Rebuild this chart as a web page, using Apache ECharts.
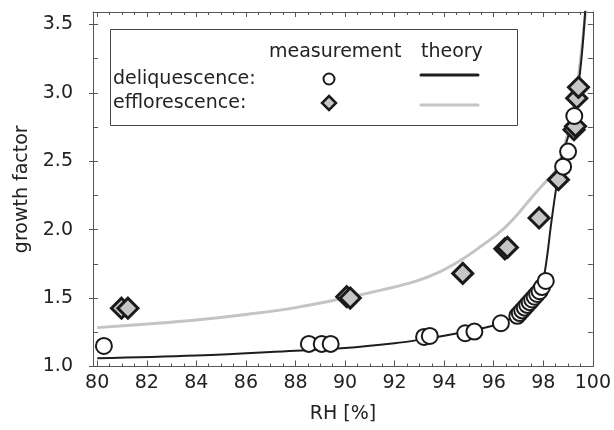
<!DOCTYPE html>
<html>
<head>
<meta charset="utf-8">
<script src="https://cdn.jsdelivr.net/npm/echarts@6/dist/echarts.min.js"></script>
<style>
  html, body { margin: 0; padding: 0; background: #fff; }
  #chart { width: 614px; height: 430px; }
</style>
</head>
<body>
<div id="chart"></div>
<script>
// tick labels
const xMajor = [80, 82, 84, 86, 88, 90, 92, 94, 96, 98, 100]
const yMajor = [1.0, 1.5, 2.0, 2.5, 3.0, 3.5]

// theory curves
const rhDeliqTheory = [80, 84, 88, 90, 92, 93, 94, 95, 96, 96.5, 97, 97.5, 97.8, 98.0, 98.15, 98.3, 98.5, 98.7, 98.9, 99.1, 99.3, 99.45, 99.58, 99.7]
const gfDeliqTheory = [1.06, 1.08, 1.115, 1.135, 1.17, 1.195, 1.225, 1.26, 1.3, 1.335, 1.38, 1.46, 1.54, 1.64, 1.8, 2.02, 2.28, 2.5, 2.62, 2.74, 2.9, 3.1, 3.33, 3.62]
const rhEfflTheory = [80, 82, 84, 86, 88, 90, 91.5, 92.8, 93.8, 94.7, 95.5, 96.3, 97.0, 97.6, 98.1, 98.5, 98.8, 99.1, 99.35, 99.55, 99.72]
const gfEfflTheory = [1.284, 1.31, 1.34, 1.38, 1.43, 1.5, 1.56, 1.62, 1.69, 1.78, 1.88, 1.99, 2.12, 2.25, 2.35, 2.43, 2.58, 2.78, 3.03, 3.32, 3.62]

// measurements
const rhDeliqMeas = [80.27, 88.54, 89.06, 89.42, 93.19, 93.42, 94.85, 95.22, 96.29, 96.95, 97.05, 97.15, 97.25, 97.35, 97.45, 97.55, 97.65, 97.75, 97.85, 97.95, 98.1, 98.8, 99.0, 99.25]
const gfDeliqMeas = [1.15, 1.165, 1.165, 1.165, 1.216, 1.223, 1.243, 1.255, 1.316, 1.37, 1.39, 1.41, 1.43, 1.45, 1.47, 1.49, 1.51, 1.53, 1.55, 1.58, 1.625, 2.46, 2.57, 2.83]
const rhEfflMeas = [80.98, 81.24, 90.07, 90.21, 94.75, 96.45, 96.55, 97.83, 98.61, 99.24, 99.3, 99.35, 99.42]
const gfEfflMeas = [1.426, 1.426, 1.51, 1.5, 1.68, 1.86, 1.87, 2.085, 2.365, 2.73, 2.755, 2.96, 3.04]

const pairs = (xs, ys) => xs.map((x, i) => [x, ys[i]])

const xMinor = []
for (let v = 80; v <= 100; v += 0.5) xMinor.push(v)
const yMinor = []
for (let v = 1.0; v <= 3.5001; v += 0.25) yMinor.push(+v.toFixed(2))

const font = 'DejaVu Sans'
const axisColor = '#555'
const textColor = '#222'
const xMin = 79.83
const yMax = 3.59

const chart = echarts.init(document.getElementById('chart'))

const baseX = {
  type: 'value',
  min: xMin,
  max: 100,
  splitLine: { show: false },
  axisLine: { show: false, onZero: false },
  axisLabel: { show: false },
}
const baseY = {
  type: 'value',
  min: 1.0,
  max: yMax,
  splitLine: { show: false },
  axisLine: { show: false, onZero: false },
  axisLabel: { show: false },
}

chart.setOption({
  animation: false,
  grid: { left: 93, right: 18, top: 12, bottom: 63.5 },
  xAxis: [
    {
      ...baseX,
      position: 'bottom',
      name: 'RH [%]',
      nameLocation: 'middle',
      nameGap: 38,
      nameTextStyle: { fontFamily: font, fontSize: 19, color: textColor },
      axisLine: { show: true, onZero: false, lineStyle: { color: axisColor, width: 1 } },
      axisTick: { inside: true, length: 6, customValues: xMajor, lineStyle: { color: axisColor } },
      axisLabel: { show: true, customValues: xMajor, fontFamily: font, fontSize: 19, color: textColor, margin: 7 },
    },
    {
      ...baseX,
      position: 'bottom',
      axisTick: { inside: true, length: 3, customValues: xMinor, lineStyle: { color: axisColor } },
    },
    {
      ...baseX,
      position: 'top',
      axisLine: { show: true, onZero: false, lineStyle: { color: axisColor, width: 1 } },
      axisTick: { inside: true, length: 3, customValues: xMinor, lineStyle: { color: axisColor } },
    },
    {
      ...baseX,
      position: 'top',
      axisTick: { inside: true, length: 5, customValues: xMajor, lineStyle: { color: axisColor } },
    },
  ],
  yAxis: [
    {
      ...baseY,
      position: 'left',
      name: 'growth factor',
      nameLocation: 'middle',
      nameGap: 51,
      nameTextStyle: { fontFamily: font, fontSize: 19, color: textColor },
      axisLine: { show: true, onZero: false, lineStyle: { color: axisColor, width: 1 } },
      axisTick: { inside: false, length: 4, customValues: yMajor, lineStyle: { color: axisColor } },
      axisLabel: {
        show: true,
        customValues: yMajor,
        fontFamily: font,
        fontSize: 19,
        color: textColor,
        margin: 20,
        formatter: (v) => v.toFixed(1),
      },
    },
    {
      ...baseY,
      position: 'left',
      axisTick: { inside: true, length: 5, customValues: yMinor, lineStyle: { color: axisColor } },
    },
    {
      ...baseY,
      position: 'right',
      axisLine: { show: true, onZero: false, lineStyle: { color: axisColor, width: 1 } },
      axisTick: { inside: true, length: 5, customValues: yMinor, lineStyle: { color: axisColor } },
    },
  ],
  series: [
    {
      name: 'efflorescence theory',
      type: 'line',
      data: pairs(rhEfflTheory, gfEfflTheory),
      showSymbol: false,
      smooth: 0.4,
      lineStyle: { color: '#c4c4c4', width: 3 },
      z: 2,
    },
    {
      name: 'deliquescence theory',
      type: 'line',
      data: pairs(rhDeliqTheory, gfDeliqTheory),
      showSymbol: false,
      smooth: 0.4,
      lineStyle: { color: '#1e1e1e', width: 2 },
      z: 3,
    },
    {
      name: 'efflorescence measurement',
      type: 'scatter',
      data: pairs(rhEfflMeas, gfEfflMeas),
      symbol: 'diamond',
      symbolSize: 20,
      itemStyle: { color: '#c6c6c6', borderColor: '#1a1a1a', borderWidth: 3, opacity: 1 },
      z: 4,
    },
    {
      name: 'deliquescence measurement',
      type: 'scatter',
      data: pairs(rhDeliqMeas, gfDeliqMeas),
      symbol: 'circle',
      symbolSize: 16,
      itemStyle: { color: '#ffffff', borderColor: '#1a1a1a', borderWidth: 2, opacity: 1 },
      z: 5,
    },
  ],
  graphic: [
    { type: 'rect', shape: { x: 110.5, y: 29.5, width: 407, height: 96 }, style: { fill: '#fff', stroke: '#444', lineWidth: 1 }, z: 10 },
    { type: 'text', x: 269, y: 52, style: { text: 'measurement', font: '19px "DejaVu Sans"', fill: textColor, align: 'left', verticalAlign: 'middle' }, z: 11 },
    { type: 'text', x: 421, y: 52, style: { text: 'theory', font: '19px "DejaVu Sans"', fill: textColor, align: 'left', verticalAlign: 'middle' }, z: 11 },
    { type: 'text', x: 113, y: 79, style: { text: 'deliquescence:', font: '19px "DejaVu Sans"', fill: textColor, align: 'left', verticalAlign: 'middle' }, z: 11 },
    { type: 'text', x: 113, y: 103, style: { text: 'efflorescence:', font: '19px "DejaVu Sans"', fill: textColor, align: 'left', verticalAlign: 'middle' }, z: 11 },
    { type: 'circle', shape: { cx: 329, cy: 79, r: 5.5 }, style: { fill: '#fff', stroke: '#1a1a1a', lineWidth: 2 }, z: 11 },
    { type: 'polygon', shape: { points: [[329, 96], [336, 103], [329, 110], [322, 103]] }, style: { fill: '#c6c6c6', stroke: '#1a1a1a', lineWidth: 2.5 }, z: 11 },
    { type: 'line', shape: { x1: 421, y1: 75, x2: 478, y2: 75 }, style: { stroke: '#1e1e1e', lineWidth: 3, lineCap: 'round' }, z: 11 },
    { type: 'line', shape: { x1: 421, y1: 105, x2: 478, y2: 105 }, style: { stroke: '#c4c4c4', lineWidth: 3, lineCap: 'round' }, z: 11 },
  ],
})
</script>
</body>
</html>
